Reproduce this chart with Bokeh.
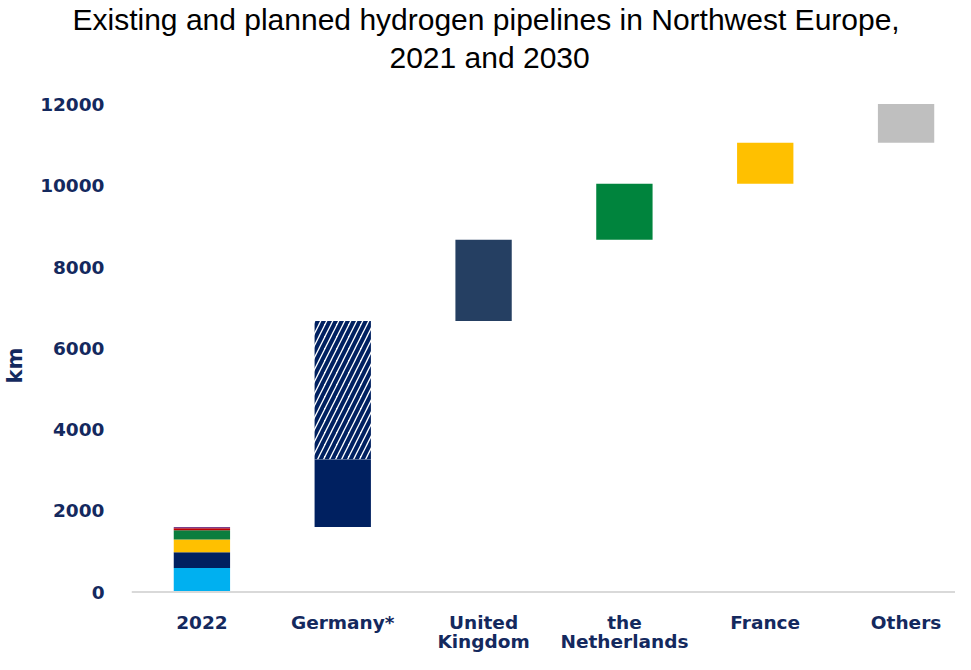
from bokeh.plotting import figure
from bokeh.models import Range1d, FixedTicker, Title, Span, ColumnDataSource
from bokeh.core.properties import value
from bokeh.embed import file_html
from bokeh.resources import INLINE

# ---- data ----
categories = ["2022", "Germany*", "United\nKingdom", "the\nNetherlands", "France", "Others"]
y_ticks = [0, 2000, 4000, 6000, 8000, 10000, 12000]

# 2022 existing network, stacked segments (km)
existing_2022 = [590, 390, 310, 230, 50, 30]
existing_colors = ["#00B0F0", "#002060", "#FFC000", "#0B7D3E", "#C00000", "#7B3F8C"]

germany_solid = 1670
germany_planned = 3400
uk_km = 2000
nl_km = 1380
france_km = 1010
others_km = 950

# ---- figure ----
p = figure(width=955, height=654,
           x_range=Range1d(-0.5, 5.351), y_range=Range1d(-1538, 12690),
           output_backend="svg", toolbar_location=None,
           x_axis_location=None,
           min_border_left=100, min_border_right=0,
           min_border_top=0, min_border_bottom=0)
p.outline_line_color = None
p.xgrid.visible = False
p.ygrid.visible = False
p.background_fill_color = "white"
p.border_fill_color = "white"

W = 0.4
# stacked 2022 bar
bottom = 0
for v, c in zip(existing_2022, existing_colors):
    p.vbar(x=[0], bottom=[bottom], top=[bottom + v], width=W, fill_color=c, line_color=None)
    bottom += v

# waterfall
level = bottom
p.vbar(x=[1], bottom=[level], top=[level + germany_solid], width=W,
       fill_color="#002060", line_color=None)
level += germany_solid
p.vbar(x=[1], bottom=[level], top=[level + germany_planned], width=W,
       fill_color="white", line_color=None,
       hatch_pattern="/", hatch_color="#002060", hatch_weight=4, hatch_scale=12)
level += germany_planned
for i, (v, c) in enumerate([(uk_km, "#253F62"), (nl_km, "#00843D"),
                             (france_km, "#FFC000"), (others_km, "#BFBFBF")]):
    p.vbar(x=[i + 2], bottom=[level], top=[level + v], width=W, fill_color=c, line_color=None)
    level += v

label_color = "#14295E"

# category axis: base line at 0 and category labels under each bar
p.add_layout(Span(location=0, dimension="width", line_color="#D9D9D9", line_width=2))
line1 = [c.split("\n")[0] for c in categories]
line2 = [c.split("\n")[1] if "\n" in c else "" for c in categories]
idx = list(range(len(categories)))
src1 = ColumnDataSource(dict(x=idx, y=[0] * len(idx), text=line1))
keep = [i for i in idx if line2[i]]
src2 = ColumnDataSource(dict(x=keep, y=[0] * len(keep), text=[line2[i] for i in keep]))
for src, off in ((src1, 30), (src2, 49)):
    p.text(x="x", y="y", text="text", source=src, text_align="center",
           text_baseline="alphabetic", y_offset=off,
           text_font=value("DejaVu Sans"), text_font_style="bold",
           text_font_size="18.5px", text_color=label_color)

# y axis
p.yaxis.ticker = FixedTicker(ticks=y_ticks)
p.yaxis.axis_line_color = None
p.yaxis.major_tick_line_color = None
p.yaxis.minor_tick_line_color = None
p.yaxis.major_tick_out = 0
p.yaxis.major_tick_in = 0
p.yaxis.major_label_text_font = "DejaVu Sans"
p.yaxis.major_label_text_font_style = "bold"
p.yaxis.major_label_text_font_size = "18.5px"
p.yaxis.major_label_text_color = label_color
p.yaxis.major_label_standoff = 27
p.yaxis.axis_label = "km"
p.yaxis.axis_label_text_font = "DejaVu Sans"
p.yaxis.axis_label_text_font_style = "bold"
p.yaxis.axis_label_text_font_size = "21px"
p.yaxis.axis_label_text_color = label_color
p.yaxis.axis_label_standoff = 10

# title (two lines)
p.title = None
t2 = Title(text="2021 and 2030", align="left", offset=258, vertical_align="top",
           standoff=2,
           text_font="Liberation Sans", text_font_size="30px",
           text_font_style="normal", text_color="black")
t1 = Title(text="Existing and planned hydrogen pipelines in Northwest Europe,",
           align="left", offset=-59, vertical_align="top", standoff=4,
           text_font="Liberation Sans", text_font_size="30px",
           text_font_style="normal", text_color="black")
p.add_layout(t2, "above")
p.add_layout(t1, "above")

open("out.html", "w").write(file_html(p, INLINE))
